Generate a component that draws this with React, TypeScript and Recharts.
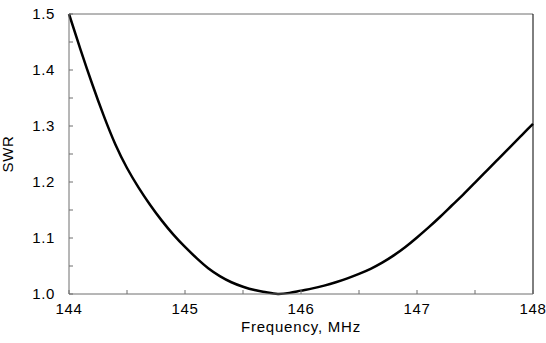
import { LineChart, Line, XAxis, YAxis, ReferenceLine } from 'recharts';

// SWR vs frequency
const freqs = [
  144.0, 144.1, 144.2, 144.3, 144.4, 144.5, 144.6, 144.7, 144.8, 144.9,
  145.0, 145.1, 145.2, 145.3, 145.4, 145.5, 145.6, 145.7, 145.8, 145.9,
  146.0, 146.1, 146.2, 146.3, 146.4, 146.5, 146.6, 146.7, 146.8, 146.9,
  147.0, 147.1, 147.2, 147.3, 147.4, 147.5, 147.6, 147.7, 147.8, 147.9, 148.0,
];
const swr = [
  1.5, 1.436, 1.375, 1.318, 1.267, 1.225, 1.19, 1.159, 1.131, 1.106,
  1.084, 1.064, 1.046, 1.032, 1.021, 1.013, 1.007, 1.003, 1.0, 1.002,
  1.006, 1.01, 1.015, 1.021, 1.028, 1.036, 1.045, 1.056, 1.069, 1.084,
  1.101, 1.119, 1.138, 1.158, 1.178, 1.199, 1.22, 1.241, 1.262, 1.283, 1.304,
];
const xTicks = [144, 144.5, 145, 145.5, 146, 146.5, 147, 147.5, 148];
const yTicks = [1.0, 1.05, 1.1, 1.15, 1.2, 1.25, 1.3, 1.35, 1.4, 1.45, 1.5];

const data = freqs.map((f, i) => ({ f, swr: swr[i] }));

const font = 'Arial, "Liberation Sans", sans-serif';
const axisColor = '#6e6e6e';

const fmtX = (v: number) => (Number.isInteger(v) ? String(v) : '');
const fmtY = (v: number) =>
  Math.abs(v * 10 - Math.round(v * 10)) < 1e-6 ? v.toFixed(1) : '';

export default function App() {
  return (
    <div style={{ position: 'absolute', left: 0, top: 0, background: '#fff' }}>
      <LineChart
        width={546}
        height={343}
        data={data}
        margin={{ top: 14, right: 13, bottom: 0, left: 0 }}
      >
        <XAxis
          dataKey="f"
          type="number"
          domain={[144, 148]}
          ticks={xTicks}
          tickFormatter={fmtX}
          interval={0}
          tickSize={-4}
          tickMargin={13}
          height={49}
          stroke={axisColor}
          tick={{ fill: '#000', fontSize: 15, fontFamily: font, letterSpacing: 0.6 }}
          label={{
            value: 'Frequency, MHz',
            position: 'insideBottom',
            offset: 11,
            fill: '#000',
            fontSize: 15,
            fontFamily: font,
            letterSpacing: 0.8,
          }}
        />
        <YAxis
          type="number"
          domain={[1.0, 1.5]}
          ticks={yTicks}
          tickFormatter={fmtY}
          interval={0}
          tickSize={-4}
          tickMargin={18}
          width={69}
          stroke={axisColor}
          tick={{ fill: '#000', fontSize: 15, fontFamily: font, letterSpacing: 0.6 }}
          label={{
            value: 'SWR',
            angle: -90,
            position: 'insideLeft',
            offset: 8,
            fill: '#000',
            fontSize: 15,
            fontFamily: font,
            letterSpacing: 0.6,
            style: { textAnchor: 'middle' },
          }}
        />
        <ReferenceLine y={1.5} stroke={axisColor} strokeWidth={1} />
        <ReferenceLine x={148} stroke="#000" strokeWidth={1} />
        <Line
          type="natural"
          dataKey="swr"
          stroke="#000"
          strokeWidth={2.5}
          dot={false}
          isAnimationActive={false}
        />
      </LineChart>
    </div>
  );
}
